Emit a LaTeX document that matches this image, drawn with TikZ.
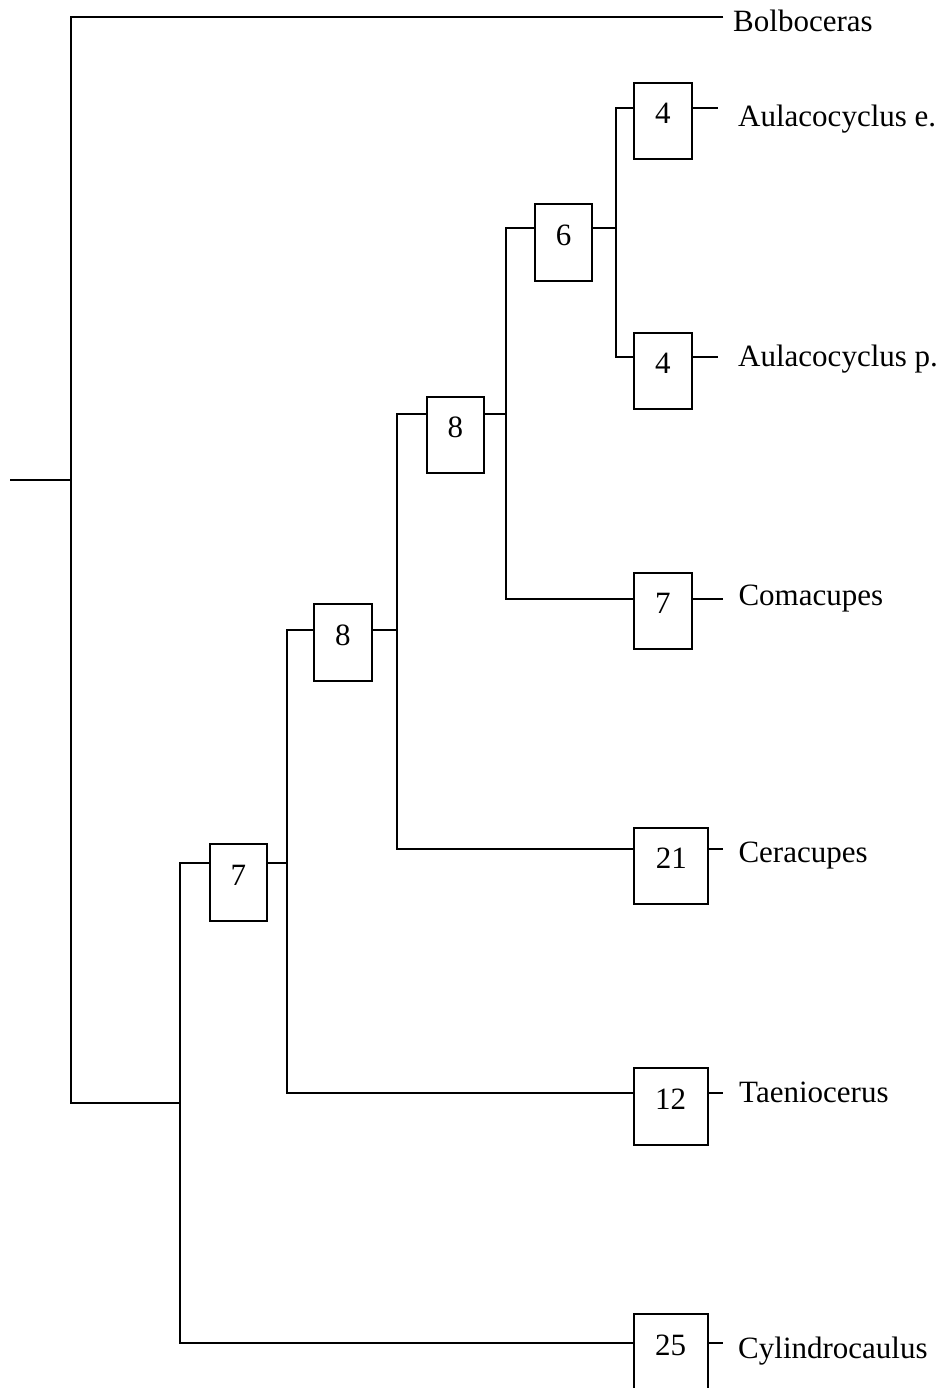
\documentclass[tikz,border=0pt]{standalone}
\usepackage{fontspec}
\setmainfont{Liberation Serif}
\begin{document}
\begin{tikzpicture}[x=1pt,y=-1pt,
  edge/.style={line width=2.1pt},
  box/.style={draw, line width=1.9pt, anchor=north west, inner sep=0pt,
    text height=41pt, text depth=35.7pt, minimum width=57.3pt,
    font=\fontsize{31}{36}\selectfont},
  wide/.style={box, minimum width=74pt},
  lab/.style={anchor=base west, inner sep=0pt, font=\fontsize{31}{36}\selectfont}]
\useasboundingbox (0,0) rectangle (948,1388);

% boxes
\node[box] (b4e) at (633.3,81.7) {4};
\node[box] (b4p) at (633.3,331.7) {4};
\node[box] (b6) at (534,203.3) {6};
\node[box] (b8b) at (425.7,395.7) {8};
\node[box] (b8a) at (313.3,603.3) {8};
\node[box] (b7a) at (208.7,843.3) {7};
\node[box] (b7c) at (633.3,571.7) {7};
\node[wide] (b21) at (633.3,826.7) {21};
\node[wide] (b12) at (632.7,1067.3) {12};
\node[wide] (b25) at (632.7,1313.3) {25};

% labels
\node[lab] (tBol) at (733,31.7) {Bolboceras};
\node[lab] (tAe) at (738,126.7) {Aulacocyclus e.};
\node[lab] (tAp) at (738,366) {Aulacocyclus p.};
\node[lab] (tCom) at (738.3,605.7) {Comacupes};
\node[lab] (tCer) at (738.3,862.3) {Ceracupes};
\node[lab] (tTae) at (739,1102.7) {Taeniocerus};
\node[lab] (tCyl) at (738,1358) {Cylindrocaulus};

% junction coordinates
\coordinate (root) at (10,480);
\coordinate (n0) at (71,480);
\coordinate (n0t) at (71,17);
\coordinate (n0b) at (71,1103);
\coordinate (eBol) at (723.3,17);
\coordinate (nA) at (180,1103);
\coordinate (nAt) at (180,863.3);
\coordinate (nAb) at (180,1343.3);
\coordinate (nBt) at (287,630);
\coordinate (nBm) at (287,863.3);
\coordinate (nBb) at (287,1093.3);
\coordinate (nCt) at (397,414);
\coordinate (nCm) at (397,630);
\coordinate (nCb) at (397,849);
\coordinate (nDt) at (506,228.3);
\coordinate (nDm) at (506,414);
\coordinate (nDb) at (506,599);
\coordinate (nEt) at (616,107.7);
\coordinate (nEm) at (616,228.3);
\coordinate (nEb) at (616,356.7);
\coordinate (e4e) at (718.3,107.7);
\coordinate (e4p) at (718.3,356.7);
\coordinate (e7c) at (723.3,599);
\coordinate (e21) at (723.3,849);
\coordinate (e12) at (723.3,1093.3);
\coordinate (e25) at (723.3,1343.3);

% connectors
\draw[edge] (root) -- (n0);
\draw[edge] (eBol) -- (n0t) -- (n0b) -- (nA);
\draw[edge] (b7a.west |- nAt) -- (nAt) -- (nAb) -- (b25.west |- nAb);
\draw[edge] (b7a.east |- nBm) -- (nBm);
\draw[edge] (b8a.west |- nBt) -- (nBt) -- (nBb) -- (b12.west |- nBb);
\draw[edge] (b8a.east |- nCm) -- (nCm);
\draw[edge] (b8b.west |- nCt) -- (nCt) -- (nCb) -- (b21.west |- nCb);
\draw[edge] (b8b.east |- nDm) -- (nDm);
\draw[edge] (b6.west |- nDt) -- (nDt) -- (nDb) -- (b7c.west |- nDb);
\draw[edge] (b6.east |- nEm) -- (nEm);
\draw[edge] (b4e.west |- nEt) -- (nEt) -- (nEb) -- (b4p.west |- nEb);
\draw[edge] (b4e.east |- nEt) -- (e4e);
\draw[edge] (b4p.east |- nEb) -- (e4p);
\draw[edge] (b7c.east |- nDb) -- (e7c);
\draw[edge] (b21.east |- nCb) -- (e21);
\draw[edge] (b12.east |- nBb) -- (e12);
\draw[edge] (b25.east |- nAb) -- (e25);
\end{tikzpicture}
\end{document}
